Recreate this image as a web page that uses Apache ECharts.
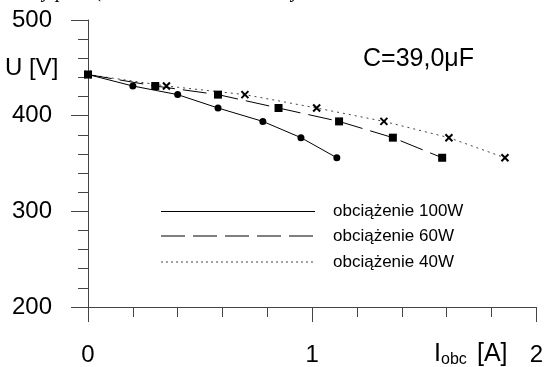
<!DOCTYPE html>
<html>
<head>
<meta charset="utf-8">
<script src="https://cdn.jsdelivr.net/npm/echarts@6/dist/echarts.min.js"></script>
<style>
html,body{margin:0;padding:0;background:#fff;}
#c{width:546px;height:367px;}
</style>
</head>
<body>
<div id="c"></div>
<script>
// Data
var seriesNames = ['obciążenie 100W', 'obciążenie 60W', 'obciążenie 40W'];
var voltage = [443, 431, 422, 408, 394, 377, 356];
var current100W = [0, 0.20, 0.40, 0.58, 0.78, 0.95, 1.11];
var current60W = [0, 0.30, 0.58, 0.85, 1.12, 1.36, 1.58];
var current40W = [0, 0.35, 0.70, 1.02, 1.32, 1.61, 1.86];
var xTicks = [0, 1, 2];
var yTicks = [200, 300, 400, 500];

function pairs(xs, ys) {
  return xs.map(function (x, i) { return [x, ys[i]]; });
}

var FONT = '"Liberation Sans", Arial, sans-serif';
var chart = echarts.init(document.getElementById('c'), null, {renderer: 'canvas'});

var legendY = [211.5, 236, 262];
var legendDash = ['solid', [24, 8], [2, 3]];
var legendColor = ['#000', '#000', '#444'];
var graphics = [];
seriesNames.forEach(function (n, i) {
  graphics.push({
    type: 'line', shape: {x1: 161, y1: legendY[i], x2: 315, y2: legendY[i]},
    style: {stroke: legendColor[i], lineWidth: 1, lineDash: legendDash[i] === 'solid' ? null : legendDash[i]}
  });
  graphics.push({
    type: 'text', x: 333, y: legendY[i],
    style: {text: n, font: '17px ' + FONT, fill: '#000', textVerticalAlign: 'middle', textAlign: 'left'}
  });
});
graphics.push({type: 'text', x: 5, y: 68, style: {text: 'U [V]', font: '24px ' + FONT, fill: '#000', textVerticalAlign: 'middle'}});
graphics.push({type: 'text', x: 363, y: 59, style: {text: 'C=39,0\u03bcF', font: '25px ' + FONT, fill: '#000', textVerticalAlign: 'middle'}});
graphics.push({type: 'text', x: 434, y: 354, style: {text: 'I', font: '25px ' + FONT, fill: '#000', textVerticalAlign: 'middle'}});
graphics.push({type: 'text', x: 441, y: 360, style: {text: 'obc', font: '16px ' + FONT, fill: '#000', textVerticalAlign: 'middle'}});
graphics.push({type: 'text', x: 470, y: 354, style: {text: ' [A]', font: '25px ' + FONT, fill: '#000', textVerticalAlign: 'middle'}});
// cut-off caption fragments at the very top
[['y', 47], ['p', 61], ['(', 99], ['y', 296]].forEach(function (g) {
  graphics.push({type: 'text', x: g[1], y: -8, style: {text: g[0], font: 'italic 20px "Liberation Serif", serif', fill: '#000', textVerticalAlign: 'middle', textAlign: 'center'}});
});

var xSym = 'path://M0,0L10,10M10,0L0,10';

chart.setOption({
  animation: false,
  backgroundColor: '#fff',
  grid: {left: 88, right: 7, top: 20, bottom: 55, containLabel: false},
  xAxis: {
    type: 'value', min: 0, max: 2, interval: 1,
    axisLine: {show: true, onZero: false, lineStyle: {color: '#444', width: 1}},
    axisTick: {show: true, inside: false, length: 15, lineStyle: {color: '#444'}},
    minorTick: {show: true, splitNumber: 5, length: 10, lineStyle: {color: '#444'}},
    splitLine: {show: false},
    axisLabel: {margin: 36, fontSize: 24, fontFamily: FONT, color: '#000',
      formatter: function (v) { return xTicks.indexOf(v) >= 0 ? String(v) : ''; }}
  },
  yAxis: {
    type: 'value', min: 200, max: 500, interval: 100,
    axisLine: {show: true, onZero: false, lineStyle: {color: '#444', width: 1}},
    axisTick: {show: true, inside: false, length: 17, lineStyle: {color: '#444'}},
    minorTick: {show: true, splitNumber: 5, length: 10, lineStyle: {color: '#444'}},
    splitLine: {show: false},
    axisLabel: {margin: 36, fontSize: 24, fontFamily: FONT, color: '#000',
      formatter: function (v) { return yTicks.indexOf(v) >= 0 ? String(v) : ''; }}
  },
  series: [
    {
      name: seriesNames[2], type: 'line', data: pairs(current40W, voltage),
      symbol: xSym, symbolSize: 7,
      lineStyle: {color: '#444', width: 1, type: [2, 4]},
      itemStyle: {color: '#000', borderColor: '#000', borderWidth: 2}
    },
    {
      name: seriesNames[0], type: 'line', data: pairs(current100W, voltage),
      symbol: 'circle', symbolSize: 7,
      lineStyle: {color: '#000', width: 1, type: 'solid'},
      itemStyle: {color: '#000'}
    },
    {
      name: seriesNames[1], type: 'line', data: pairs(current60W, voltage),
      symbol: 'rect', symbolSize: 8,
      lineStyle: {color: '#000', width: 1, type: [24, 8]},
      itemStyle: {color: '#000'}
    }
  ],
  graphic: graphics
});
</script>
</body>
</html>
